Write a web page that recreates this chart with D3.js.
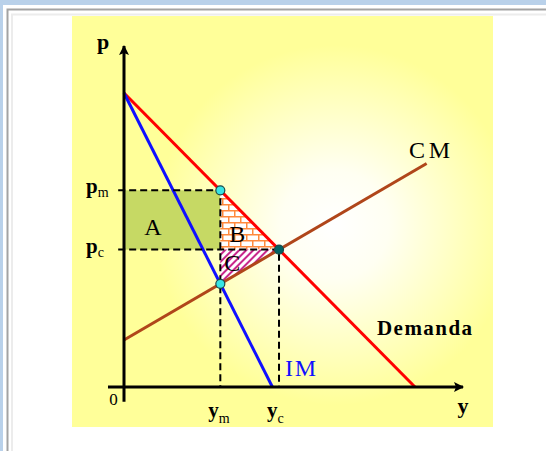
<!DOCTYPE html>
<html lang="es">
<head>
<meta charset="UTF-8">
<title>Monopolio</title>
<script src="https://d3js.org/d3.v7.min.js"></script>
<style>
  html, body { margin: 0; padding: 0; background: #fff; }
  svg { display: block; }
  text { font-family: "Liberation Serif", "DejaVu Serif", serif; fill: #000; }
</style>
</head>
<body>
<svg width="546" height="451"></svg>
<script>
// lines, in (y, p) units
const demanda = [[0, 10], [10, 0]];
const im = [[0, 10], [5.1, 0]];
const cm = [[0, 1.6], [10.4, 7.6]];

// labels
const areaLabels = ["A", "B", "C"];
const curveLabels = ["CM", "Demanda", "IM"];
const pTicks = [{ b: "p", s: "m" }, { b: "p", s: "c" }];
const yTicks = [{ b: "y", s: "m" }, { b: "y", s: "c" }];

const svg = d3.select("svg");

// scales
const x = d3.scaleLinear().domain([0, 10]).range([124, 415]);
const p = d3.scaleLinear().domain([0, 10]).range([387, 93]);

// line helpers
function slope(l) { return (l[1][1] - l[0][1]) / (l[1][0] - l[0][0]); }
function at(l, q) { return l[0][1] + slope(l) * (q - l[0][0]); }
function cross(a, b) {
  const q = (b[0][1] - a[0][1] + slope(a) * a[0][0] - slope(b) * b[0][0]) / (slope(a) - slope(b));
  return [q, at(a, q)];
}

const ym = cross(im, cm)[0];
const pm = at(demanda, ym);
const cmAtYm = at(cm, ym);
const [yc, pc] = cross(demanda, cm);

// ---- window frame ----
svg.append("rect").attr("x", 0).attr("y", 0).attr("width", 546).attr("height", 5).attr("fill", "#b9d1ea");
svg.append("rect").attr("x", 0).attr("y", 0).attr("width", 3).attr("height", 451).attr("fill", "#b9d1ea");
svg.append("path").attr("d", "M7.5,451V9.5H546").attr("fill", "none").attr("stroke", "#a3a3a3").attr("stroke-width", 2);
svg.append("path").attr("d", "M12,451V14.5H546").attr("fill", "none").attr("stroke", "#ececec").attr("stroke-width", 2);

// ---- defs ----
const defs = svg.append("defs");
const grad = defs.append("radialGradient").attr("id", "bg")
  .attr("gradientUnits", "userSpaceOnUse")
  .attr("cx", 335).attr("cy", 225).attr("r", 180);
grad.append("stop").attr("offset", "0").attr("stop-color", "#ffffff");
grad.append("stop").attr("offset", "0.3").attr("stop-color", "#fffff2");
grad.append("stop").attr("offset", "1").attr("stop-color", "#ffff99");

const brick = defs.append("pattern").attr("id", "brick")
  .attr("patternUnits", "userSpaceOnUse").attr("width", 12).attr("height", 12);
brick.append("rect").attr("width", 12).attr("height", 12).attr("fill", "#fff");
brick.append("path")
  .attr("d", "M0,0.75H12M0,6.75H12M0.75,0V6.75M6.75,6.75V12")
  .attr("stroke", "#ff8a3d").attr("stroke-width", 1.5).attr("fill", "none");

const hatch = defs.append("pattern").attr("id", "hatch")
  .attr("patternUnits", "userSpaceOnUse").attr("width", 5).attr("height", 5)
  .attr("patternTransform", "rotate(45)");
hatch.append("rect").attr("width", 5).attr("height", 5).attr("fill", "#fff");
hatch.append("line").attr("x1", 1).attr("x2", 1).attr("y1", 0).attr("y2", 5)
  .attr("stroke", "#c8288c").attr("stroke-width", 2);

const arrow = defs.append("marker").attr("id", "arrow")
  .attr("viewBox", "0 0 10 10").attr("refX", 9).attr("refY", 5)
  .attr("markerUnits", "userSpaceOnUse")
  .attr("markerWidth", 12).attr("markerHeight", 10).attr("orient", "auto");
arrow.append("path").attr("d", "M0,0L10,5L0,10L2,5Z").attr("fill", "#000");

// ---- panel ----
svg.append("rect").attr("x", 72).attr("y", 16).attr("width", 421).attr("height", 411).attr("fill", "url(#bg)");

// area A
svg.append("rect")
  .attr("x", x(0)).attr("y", p(pm))
  .attr("width", x(ym) - x(0)).attr("height", p(pc) - p(pm))
  .attr("fill", "#c6d964");

// area B
svg.append("path")
  .attr("d", d3.line()([[x(ym), p(pm)], [x(ym), p(pc)], [x(yc), p(pc)]]) + "Z")
  .attr("fill", "url(#brick)");

// area C
svg.append("path")
  .attr("d", d3.line()([[x(ym), p(pc)], [x(yc), p(pc)], [x(ym), p(cmAtYm)]]) + "Z")
  .attr("fill", "url(#hatch)");

// curves
const line = d3.line().x(d => x(d[0])).y(d => p(d[1]));
svg.append("path").attr("d", line(cm)).attr("fill", "none").attr("stroke", "#b0461a").attr("stroke-width", 3);
svg.append("path").attr("d", line(demanda)).attr("fill", "none").attr("stroke", "#ff0000").attr("stroke-width", 3);
svg.append("path").attr("d", line(im)).attr("fill", "none").attr("stroke", "#1010ff").attr("stroke-width", 3);

// dashed guides
const dash = svg.append("g").attr("stroke", "#000").attr("stroke-width", 2)
  .attr("stroke-dasharray", "7,4").attr("fill", "none");
dash.append("path").attr("d", `M${x(-0.2)},${p(pm)}H${x(ym)}V${p(0)}`);
dash.append("path").attr("d", `M${x(-0.2)},${p(pc)}H${x(yc)}V${p(0)}`);

// axes
svg.append("line").attr("x1", x(0)).attr("y1", p(-0.5)).attr("x2", x(0)).attr("y2", p(11.6))
  .attr("stroke", "#000").attr("stroke-width", 3).attr("marker-end", "url(#arrow)");
svg.append("line").attr("x1", x(-0.55)).attr("y1", p(0)).attr("x2", x(11.65)).attr("y2", p(0))
  .attr("stroke", "#000").attr("stroke-width", 3).attr("marker-end", "url(#arrow)");

// points
const pts = [
  { q: ym, v: pm, fill: "#38e4e4" },
  { q: ym, v: cmAtYm, fill: "#38e4e4" },
  { q: yc, v: pc, fill: "#006464" }
];
svg.selectAll("circle.pt").data(pts).enter().append("circle")
  .attr("class", "pt")
  .attr("cx", d => x(d.q)).attr("cy", d => p(d.v)).attr("r", 4.5)
  .attr("fill", d => d.fill).attr("stroke", "#1d4a4a").attr("stroke-width", 1.2);

// area labels
const areaPos = [[x(0) + 29, p(pc) - 15], [x(ym) + 17, p(pc) - 8], [x(ym) + 12, p(pc) + 21]];
svg.selectAll("text.area").data(areaLabels).enter().append("text")
  .attr("class", "area")
  .attr("x", (d, i) => areaPos[i][0]).attr("y", (d, i) => areaPos[i][1])
  .attr("text-anchor", "middle").attr("font-size", 24)
  .text(d => d);

// curve labels
svg.append("text").attr("x", 409).attr("y", 158).attr("font-size", 24)
  .attr("textLength", 41).attr("lengthAdjust", "spacing").text(curveLabels[0]);
svg.append("text").attr("x", 377).attr("y", 335).attr("font-size", 21).attr("font-weight", "bold")
  .attr("textLength", 95).attr("lengthAdjust", "spacing").text(curveLabels[1]);
svg.append("text").attr("x", 285).attr("y", 376).attr("font-size", 24)
  .style("fill", "#1010ff")
  .attr("textLength", 31).attr("lengthAdjust", "spacing").text(curveLabels[2]);

// axis titles
svg.append("text").attr("x", 103).attr("y", 49).attr("text-anchor", "middle")
  .attr("font-size", 22).attr("font-weight", "bold").text("p");
svg.append("text").attr("x", 463).attr("y", 413).attr("text-anchor", "middle")
  .attr("font-size", 22).attr("font-weight", "bold").text("y");
svg.append("text").attr("x", 113.5).attr("y", 405).attr("text-anchor", "middle")
  .attr("font-size", 17).text("0");

// tick labels with subscripts
const pVals = [pm, pc];
pTicks.forEach((t, i) => {
  const tx = svg.append("text").attr("x", 86).attr("y", p(pVals[i]) + 3).attr("font-size", 21).attr("font-weight", "bold");
  tx.append("tspan").text(t.b);
  tx.append("tspan").attr("font-size", 14).attr("font-weight", "normal").attr("dy", 4).text(t.s);
});
const yVals = [ym, yc];
yTicks.forEach((t, i) => {
  const tx = svg.append("text").attr("x", x(yVals[i]) - 12).attr("y", p(0) + 30).attr("font-size", 21).attr("font-weight", "bold");
  tx.append("tspan").text(t.b);
  tx.append("tspan").attr("font-size", 14).attr("font-weight", "normal").attr("dy", 6).text(t.s);
});
</script>
</body>
</html>
